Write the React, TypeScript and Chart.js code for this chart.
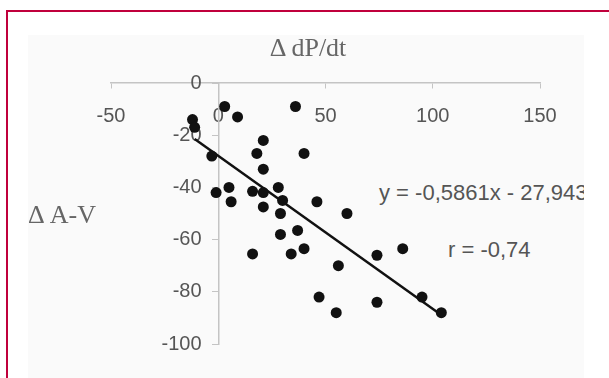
import React, { useEffect, useRef } from "react";
import { Chart, registerables } from "chart.js";

Chart.register(...registerables);

// ---- data ----
const xValues = [3, 9, 36, -12, -11, 21, 18, 40, -3, 21, 5, -1, 16, 21, 28, 6, 30, 21, 46, 29, 60, 29, 37, 16, 34, 40, 56, 74, 86, 47, 55, 74, 95, 104];
const yValues = [-9, -13, -9, -14, -17, -22, -27, -27, -28, -33, -40, -42, -41.5, -42, -40, -45.5, -45, -47.5, -45.5, -50, -50, -58, -56.5, -65.5, -65.5, -63.5, -70, -66, -63.5, -82, -88, -84, -82, -88];
const trendSlope = -0.5861;
const trendIntercept = -27.943;
const trendX = [-11, 104];
const xTicks = [-50, 0, 50, 100, 150];
const yTicks = [0, -20, -40, -60, -80, -100];
const xTitle = "Δ dP/dt";
const yTitle = "Δ A-V";
const equationText = "y = -0,5861x - 27,943";
const rText = "r = -0,74";

const SANS = "'Liberation Sans', Arial, sans-serif";
const SERIF = "'Liberation Serif', 'Times New Roman', serif";

export default function App() {
  const canvasRef = useRef<HTMLCanvasElement | null>(null);

  useEffect(() => {
    const canvas = canvasRef.current;
    if (!canvas) return;
    const points = xValues.map((x, i) => ({ x, y: yValues[i] }));
    const trend = trendX.map((x) => ({ x, y: trendSlope * x + trendIntercept }));
    const chart = new Chart(canvas, {
      type: "scatter",
      data: {
        datasets: [
          {
            type: "line",
            data: trend,
            borderColor: "#111111",
            borderWidth: 2.5,
            pointRadius: 0,
            fill: false,
            order: 2,
          } as any,
          {
            data: points,
            backgroundColor: "#111111",
            borderColor: "#111111",
            borderWidth: 0,
            pointRadius: 5.5,
            order: 1,
          },
        ],
      },
      options: {
        animation: false,
        responsive: false,
        maintainAspectRatio: false,
        layout: { padding: { left: 111, right: 69, top: 83, bottom: 34 } },
        plugins: { legend: { display: false }, tooltip: { enabled: false } },
        scales: {
          x: {
            type: "linear",
            min: -50,
            max: 150,
            position: { y: 0 } as any,
            afterBuildTicks: (s: any) => {
              s.ticks = xTicks.map((v) => ({ value: v }));
            },
            afterFit: (s: any) => {
              s.height = 0;
            },
            grid: { drawOnChartArea: false, drawTicks: true, tickLength: 5, color: "#c4c4c4" },
            border: { display: true, color: "#c4c4c4", width: 1.5 },
            ticks: {
              color: "#555555",
              padding: 16,
              font: { family: SANS, size: 20 },
              maxRotation: 0,
            },
          },
          y: {
            type: "linear",
            min: -100,
            max: 0,
            position: { x: 0 } as any,
            afterBuildTicks: (s: any) => {
              s.ticks = yTicks.map((v) => ({ value: v }));
            },
            afterFit: (s: any) => {
              s.width = 0;
            },
            grid: { drawOnChartArea: false, drawTicks: true, tickLength: 6, color: "#c4c4c4" },
            border: { display: true, color: "#c4c4c4", width: 1.5 },
            ticks: {
              color: "#555555",
              padding: 8,
              font: { family: SANS, size: 20 },
              // labels of an axis placed at x = 0 are drawn flush with the line; keep a gap
              callback: (v: any) => `${v}   `,
            },
          },
        },
      },
    });
    return () => chart.destroy();
  }, []);

  return (
    <div style={{ position: "fixed", left: 0, top: 0, width: 609, height: 378, background: "#ffffff", overflow: "hidden" }}>
      <div style={{ position: "absolute", left: 6, top: 10, width: 700, height: 500, borderTop: "2px solid #c0003c", borderLeft: "2px solid #c0003c" }} />
      <div style={{ position: "absolute", left: 28, top: 35, width: 556, height: 400, background: "#fafafa", overflow: "hidden" }}>
        <div style={{ position: "absolute", left: 351, top: 193 - 35 - 12, font: `22px ${SANS}`, lineHeight: "24px", color: "#555555", whiteSpace: "nowrap" }}>{equationText}</div>
        <div style={{ position: "absolute", left: 420, top: 250 - 35 - 12, font: `22px ${SANS}`, lineHeight: "24px", color: "#555555", whiteSpace: "nowrap" }}>{rText}</div>
      </div>
      <canvas ref={canvasRef} width={609} height={378} style={{ position: "absolute", left: 0, top: 0, width: 609, height: 378 }} />
      <div style={{ position: "absolute", left: 308, top: 48 - 13, transform: "translateX(-50%)", font: `26px ${SERIF}`, lineHeight: "26px", color: "#666666", whiteSpace: "nowrap" }}>{xTitle}</div>
      <div style={{ position: "absolute", left: 28, top: 215 - 13, font: `26px ${SERIF}`, lineHeight: "26px", color: "#666666", whiteSpace: "nowrap" }}>{yTitle}</div>
    </div>
  );
}
